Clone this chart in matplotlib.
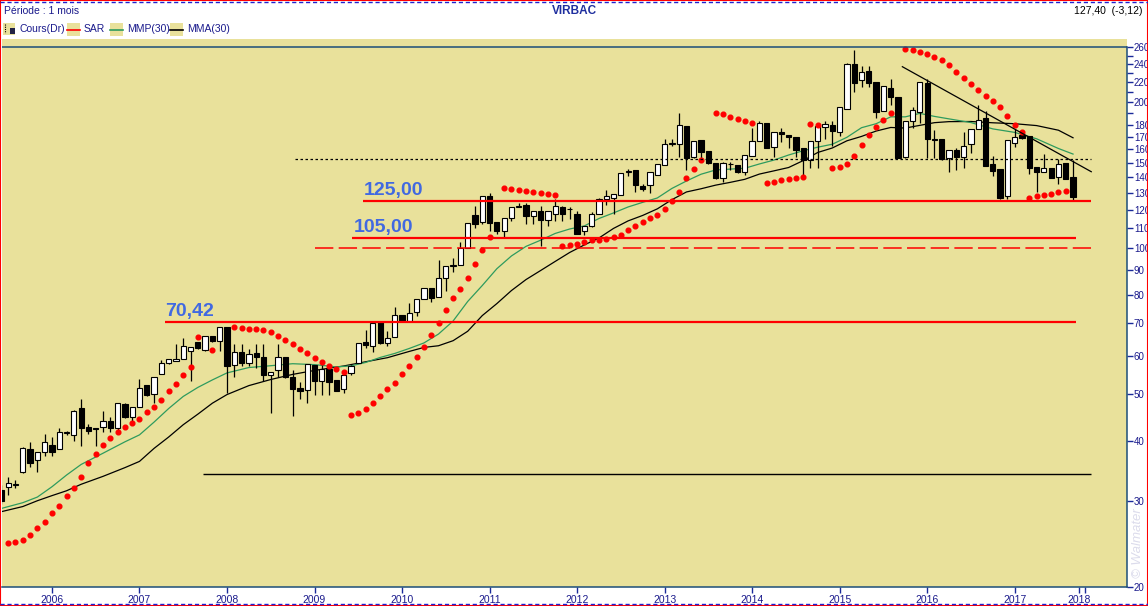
import numpy as np
import matplotlib
matplotlib.use('Agg')
import matplotlib.pyplot as plt
from matplotlib.patches import Rectangle
from matplotlib.lines import Line2D
from matplotlib.ticker import FixedLocator, FixedFormatter, NullLocator

plt.rcParams['font.family'] = ['Liberation Sans', 'DejaVu Sans']

nan = np.nan
# monthly candles, index 0 = Jan 2006
months = list(range(-7, 141))
opens = [31.7, 32.1, 32.5, 34.5, 38.5, 36.5, 37.9,
         39.3, 38.5, 41.6, 41.1, 46.7, 42.7, 42.5, 42.7, 44.0, 42.5, 47.7, 44.8,
         47.0, 52.2, 50.0, 55.0, 58.0, 58.6, 59.1, 61.4, 64.0, 61.6, 65.8, 64.3,
         68.8, 57.5, 61.0, 58.0, 60.7, 59.5, 54.8, 56.1, 59.5, 54.1, 51.5, 51.0,
         57.5, 53.2, 56.4, 53.5, 51.3, 55.3, 58.0, 64.0, 62.8, 70.4, 63.7, 65.5,
         72.8, 70.8, 73.8, 78.5, 82.8, 79.3, 86.8, 92.0, 92.4, 100.0, 117.0, 113.5,
         128.1, 113.5, 108.4, 115.2, 121.8, 123.0, 116.3, 119.6, 114.6, 117.8, 121.8, 120.5,
         117.8, 108.6, 111.2, 117.8, 126.5, 127.2, 129.0, 144.0, 145.1, 134.3, 134.9, 141.7,
         148.8, 164.3, 164.3, 179.0, 154.3, 167.3, 158.7, 150.0, 139.6, 149.3, 148.6, 143.7,
         155.1, 166.5, 181.7, 162.2, 173.8, 171.3, 169.6, 161.4, 152.1, 166.5, 178.2, 179.9,
         173.8, 194.2, 240.1, 222.6, 232.4, 220.5, 192.0, 214.3, 205.3, 154.3, 182.8, 191.1,
         219.5, 168.2, 168.2, 153.5, 159.5, 154.3, 164.3, 176.4, 185.7, 149.3, 145.7, 128.5,
         164.8, 171.3, 170.5, 147.1, 143.7, 146.4, 140.3, 150.0, 140.3]
highs = [32.5, 33.7, 33.2, 38.8, 39.8, 38.0, 41.3,
         40.8, 42.5, 41.9, 46.3, 48.8, 43.3, 42.6, 46.1, 44.8, 47.9, 47.8, 47.0,
         53.8, 52.3, 54.1, 58.8, 59.1, 63.4, 65.2, 62.5, 64.0, 65.8, 65.8, 68.8,
         68.8, 63.4, 63.4, 62.0, 63.4, 63.4, 55.5, 63.4, 59.5, 56.1, 52.9, 57.8,
         57.5, 57.5, 57.5, 53.5, 56.1, 57.5, 63.7, 67.8, 70.1, 70.4, 67.4, 75.5,
         72.8, 77.0, 78.5, 82.8, 82.8, 94.6, 92.0, 95.5, 103.0, 113.0, 122.0, 128.1,
         130.2, 113.5, 115.7, 121.8, 124.0, 124.0, 119.6, 122.4, 119.6, 126.5, 122.4, 121.8,
         119.6, 111.2, 119.0, 127.0, 131.9, 129.6, 143.0, 145.7, 145.1, 135.5, 143.7, 149.4,
         168.3, 168.3, 190.2, 179.0, 166.5, 167.3, 158.7, 150.0, 150.7, 150.7, 148.6, 155.9,
         177.2, 183.0, 181.7, 173.8, 177.2, 171.3, 169.6, 161.4, 166.5, 179.0, 183.0, 183.0,
         196.2, 241.0, 256.6, 238.4, 238.4, 220.5, 216.4, 223.6, 205.3, 182.8, 196.2, 220.5,
         223.6, 175.5, 168.2, 159.5, 161.0, 173.8, 176.4, 197.5, 191.9, 155.1, 145.7, 167.3,
         176.4, 174.6, 170.5, 147.1, 156.6, 146.4, 152.8, 150.0, 152.1]
lows = [29.6, 31.0, 32.0, 34.3, 35.3, 34.5, 37.2,
        37.2, 38.5, 41.2, 40.0, 39.1, 41.3, 39.1, 41.7, 41.7, 41.7, 44.6, 44.0,
        47.0, 49.6, 47.9, 55.0, 57.8, 58.6, 59.1, 53.2, 62.0, 61.3, 64.0, 61.3,
        50.3, 54.1, 57.0, 57.0, 56.6, 53.2, 45.6, 54.1, 53.9, 45.0, 48.9, 47.9,
        49.8, 49.8, 49.8, 50.8, 50.3, 54.8, 58.0, 62.2, 61.0, 63.5, 62.8, 65.5,
        70.6, 70.8, 72.5, 78.5, 77.6, 79.3, 81.6, 89.3, 92.4, 100.0, 109.9, 112.0,
        108.6, 107.0, 104.9, 114.0, 121.8, 112.0, 112.0, 101.0, 111.0, 114.0, 114.0, 115.0,
        107.0, 106.5, 110.8, 117.8, 123.0, 117.8, 129.0, 140.7, 130.6, 131.3, 129.9, 141.7,
        148.8, 163.0, 154.0, 145.0, 153.5, 150.7, 149.4, 139.0, 136.9, 145.1, 142.9, 141.7,
        155.1, 166.5, 161.4, 154.0, 165.7, 161.4, 154.0, 140.0, 146.4, 146.4, 168.0, 163.0,
        170.5, 194.2, 210.2, 215.4, 215.4, 185.7, 192.0, 197.5, 153.5, 153.5, 177.2, 181.0,
        153.5, 153.5, 152.1, 143.7, 145.1, 146.4, 157.3, 176.4, 147.8, 140.7, 126.5, 126.5,
        162.2, 168.0, 142.3, 130.5, 143.7, 139.6, 135.5, 139.0, 126.0]
closes = [30.0, 32.7, 32.6, 38.7, 36.0, 37.9, 39.8,
          37.9, 41.7, 41.8, 46.2, 42.5, 41.9, 42.4, 44.0, 42.5, 47.8, 44.8, 47.0,
          51.5, 49.8, 54.1, 58.0, 59.1, 59.1, 62.8, 62.5, 62.2, 65.8, 64.3, 68.8,
          57.2, 61.0, 58.0, 60.4, 59.5, 54.8, 55.5, 59.5, 54.1, 51.3, 50.8, 57.8,
          53.2, 56.4, 53.0, 50.8, 54.8, 57.2, 63.7, 63.1, 70.1, 63.7, 65.2, 72.8,
          70.8, 73.5, 78.5, 82.8, 78.9, 86.8, 92.0, 92.4, 100.0, 113.0, 112.1, 128.1,
          113.0, 108.4, 115.7, 121.8, 122.4, 116.3, 119.6, 114.6, 119.6, 122.4, 117.8, 120.3,
          107.0, 111.2, 117.8, 126.5, 128.5, 129.6, 143.0, 144.5, 134.9, 132.4, 143.7, 149.4,
          164.3, 164.8, 179.9, 153.5, 166.5, 158.0, 150.0, 139.6, 150.0, 149.0, 143.7, 155.9,
          166.5, 181.7, 161.4, 173.8, 172.1, 169.6, 159.5, 152.1, 166.5, 179.0, 180.8, 174.6,
          196.2, 240.1, 219.5, 231.3, 219.5, 191.1, 216.4, 205.3, 153.5, 182.8, 193.0, 220.5,
          168.2, 167.5, 152.8, 159.5, 154.3, 162.9, 176.4, 184.0, 147.8, 144.4, 127.2, 167.3,
          170.0, 168.9, 146.4, 143.7, 146.4, 139.6, 149.4, 139.0, 127.4]

sar = [nan, 24.65, 24.77, 24.97, 25.57, 26.47, 27.24,
       28.43, 29.39, 30.78, 32.02, 33.74, 35.96, 37.64, 39.28, 40.61, 41.79, 42.79, 43.62,
       44.46, 45.90, 47.07, 48.66, 50.79, 52.43, 54.73, 56.93, 65.66, nan, 61.52, nan,
       nan, 68.85, 68.53, 68.10, 68.10, 67.78, 67.23, 65.97, 64.63, 63.51, 62.01, 60.76,
       59.42, 58.22, 57.12, 56.40, 55.52, 45.27, 45.64, 46.52, 47.87, 49.56, 51.27, 52.77,
       55.01, 57.20, 59.62, 62.61, 66.29, 69.98, 74.54, 79.05, 82.51, 86.95, 92.93, 99.18,
       105.5, nan, 133.1, 132.5, 131.9, 131.4, 130.8, 130.0, 129.4, 128.6, 101.3, 101.7,
       102.2, 103.1, 104.0, 104.2, 104.6, 105.5, 106.5, 109.1, 111.3, 113.5, 115.6, 117.1,
       120.3, 125.3, 130.8, 139.6, 146.0, 152.1, nan, 190.6, 189.4, 187.0, 185.0, 183.2,
       181.8, nan, 136.7, 137.3, 138.4, 139.1, 139.8, 140.6, 180.7, 180.1, nan, 146.7,
       147.4, 149.3, 155.0, 163.3, 171.5, 178.1, 184.0, 190.6, nan, 257.9, 256.7, 254.3,
       251.8, 248.3, 244.8, 239.0, 231.2, 225.0, 218.7, 212.2, 206.3, 201.5, 195.8, 187.6,
       180.1, 174.2, 127.2, 128.4, 128.9, 129.4, 130.7, 131.3, nan]

mma_idx = [-7, -4, -2, 0, 2, 4, 7, 10, 12, 14, 16, 18, 20, 22, 24, 27, 30, 33, 36, 40,
           43, 46, 49, 51, 53, 55, 57, 59, 61, 63, 65, 67, 69, 71, 73, 75, 77, 79, 81, 83,
           85, 87, 89, 91, 93, 95, 97, 99, 101, 103, 105, 107, 109, 111, 113, 115, 117, 119,
           121, 123, 126, 129, 132, 135, 138, 140]
mma = [28.56, 29.28, 30.10, 30.84, 31.56, 32.55, 33.80, 35.23, 36.29, 38.61, 40.75, 43.21,
       45.43, 47.87, 49.87, 52.04, 53.57, 54.89, 55.93, 57.13, 58.28, 59.43, 61.23, 62.40,
       62.9, 64.43, 67.38, 72.60, 76.86, 81.78, 86.17, 89.95, 93.93, 98.04, 101.6, 105.0,
       109.9, 113.9, 116.9, 120.6, 126.0, 130.7, 132.7, 135.0, 136.8, 138.8, 142.3, 144.5,
       146.8, 151.7, 157.7, 161.1, 166.7, 170.2, 174.6, 177.6, 177.1, 179.4, 181.7, 182.6,
       182.7, 181.6, 180.8, 179.2, 175.3, 169.1]

mmp_idx = [-7, -4, -2, 0, 2, 4, 7, 10, 12, 14, 16, 18, 20, 22, 24, 27, 30, 33, 36, 39,
           41, 43, 45, 47, 49, 51, 53, 55, 57, 59, 61, 63, 65, 67, 69, 71, 73, 75, 77, 79,
           81, 83, 85, 87, 89, 91, 93, 95, 97, 99, 101, 103, 105, 107, 109, 111, 113, 115,
           117, 119, 121, 123, 126, 129, 132, 135, 138, 140]
mmp = [29.0, 29.82, 30.63, 32.17, 34.01, 35.77, 37.73, 39.83, 41.17, 43.75, 46.66, 49.43,
       51.59, 53.47, 55.28, 56.71, 57.20, 57.75, 57.50, 56.88, 57.15, 58.09, 59.49, 60.64,
       62.10, 63.74, 66.50, 70.75, 77.63, 83.76, 90.73, 96.40, 100.9, 103.9, 107.3, 109.6,
       111.2, 115.2, 118.3, 121.7, 124.4, 127.0, 132.9, 137.7, 142.2, 145.1, 145.7, 146.3,
       149.3, 152.1, 155.8, 159.0, 161.7, 164.0, 169.5, 177.4, 180.8, 186.8, 186.8, 189.9,
       187.2, 185.0, 181.8, 176.4, 173.5, 168.3, 160.7, 156.5]

years = ['2006', '2007', '2008', '2009', '2010', '2011', '2012', '2013', '2014',
         '2015', '2016', '2017', '2018']
level_values = [125.00, 105.00, 70.42]
level_labels = ['125,00', '105,00', '70,42']

W, H = 1148, 606
fig = plt.figure(figsize=(W / 100, H / 100), dpi=100)
fig.patch.set_facecolor('white')
ax = fig.add_axes([2 / W, (H - 586.7) / H, 1125 / W, (586.7 - 39.3) / H])
khaki = '#E9E19B'
navy = '#1a1a8c'
axis_col = '#1d4e78'
ax.set_facecolor(khaki)
ax.set_yscale('log')
ax.set_ylim(20, 270.1)
ax.set_xlim(-6.85, 147.4)

x = np.array(months, dtype=float)
o = np.array(opens); h = np.array(highs); l = np.array(lows); c = np.array(closes)
up = c >= o
bot = np.minimum(o, c)
top = np.maximum(o, c)

ax.plot(mma_idx, mma, color='black', lw=0.9, zorder=2)
ax.plot(mmp_idx, mmp, color='#2E9B5E', lw=0.9, zorder=2)

ax.vlines(x, l, h, color='black', lw=0.9, zorder=3)
ax.bar(x[up], (top - bot)[up], bottom=bot[up], width=0.72, color='white',
       edgecolor='black', lw=0.8, zorder=4)
ax.bar(x[~up], (top - bot)[~up], bottom=bot[~up], width=0.72, color='black',
       edgecolor='black', lw=0.8, zorder=4)

ax.plot(months, np.array(sar, dtype=float), 'o', color='#FF0000', ms=3.4,
        mec='#FF0000', zorder=5)

# drawn levels / lines
ax.hlines(level_values[0], 42.7, 142.5, color='#FF0000', lw=1.6, zorder=6)
ax.hlines(level_values[1], 41.2, 140.4, color='#FF0000', lw=1.6, zorder=6)
ax.hlines(level_values[2], 15.5, 140.4, color='#FF0000', lw=1.6, zorder=6)
ax.hlines(100, 36, 142.5, color='#FF0000', lw=1.1, linestyles=(0, (12, 3.5)), zorder=6)
ax.hlines(153, 33.3, 142.5, color='black', lw=0.9, linestyles=(0, (2, 2)), zorder=6)
ax.hlines(34.2, 20.7, 142.5, color='black', lw=1.0, zorder=6)
ax.plot([116.6, 142.5], [237.1, 143.9], color='black', lw=0.9, zorder=6)
ax.axhline(260, color=axis_col, lw=1.1, zorder=7)

lab_pos = [(42.7, 131.9), (41.4, 110.6), (15.5, 74.2)]
for (tx, ty), s in zip(lab_pos, level_labels):
    ax.text(tx, ty, s, color='#4169E1', fontsize=14, fontweight='bold',
            va='center', ha='left', zorder=7)

# axes
for s in ['left', 'top']:
    ax.spines[s].set_visible(False)
ax.spines['right'].set_color(axis_col)
ax.spines['right'].set_linewidth(1.1)
ax.spines['right'].set_bounds(20, 260)
ax.spines['bottom'].set_color(axis_col)
ax.spines['bottom'].set_linewidth(1.1)

yt = [20, 30, 40, 50, 60, 70, 80, 90, 100, 110, 120, 130, 140, 150, 160, 170, 180,
      190, 200, 210, 220, 230, 240, 250, 260]
ylab = [str(v) if v not in (190, 210, 230, 250) else '' for v in yt]
ax.yaxis.tick_right()
ax.yaxis.set_major_locator(FixedLocator(yt))
ax.yaxis.set_major_formatter(FixedFormatter(ylab))
ax.yaxis.set_minor_locator(NullLocator())
ax.tick_params(axis='y', direction='out', length=4, width=1, color='#1a2a9a',
               labelcolor=navy, labelsize=7, pad=1)

xt = [0, 12, 24, 36, 48, 60, 72, 84, 96, 108, 120, 132, 140.8, 141.6]
ax.set_xticks(xt)
ax.set_xticklabels(years + [''])
ax.tick_params(axis='x', direction='out', length=4, width=1, color='#1a2a9a',
               labelcolor=navy, labelsize=7.5, pad=2)


def fx(px):
    return px / W


def fy(py):
    return 1 - py / H


# header
fig.text(fx(4), fy(11), 'Période : 1 mois', color=navy, fontsize=7.5, va='center')
fig.text(fx(574), fy(11), 'VIRBAC', color='#1f2f9f', fontsize=8.5, fontweight='bold',
         va='center', ha='center')
fig.text(fx(1143), fy(11), '127,40  (-3,12)', color='black', fontsize=7.5,
         va='center', ha='right')

# legend row
fig.add_artist(Rectangle((fx(3), fy(35)), 12 / W, 12 / H, transform=fig.transFigure,
                         facecolor=khaki, edgecolor='none'))
fig.add_artist(Rectangle((fx(10), fy(34)), 5 / W, 6 / H, transform=fig.transFigure,
                         facecolor='#222244', edgecolor='none'))
fig.add_artist(Line2D([fx(5), fx(5)], [fy(24), fy(33)], transform=fig.transFigure,
                      color='black', lw=0.8, ls=(0, (1, 1))))
fig.text(fx(19), fy(29), 'Cours(Dr)', color=navy, fontsize=7.5, va='center')
leg = [(67, '#FF0000', 'SAR'), (110, '#2E9B5E', 'MMP(30)'), (170, 'black', 'MMA(30)')]
for px, col, name in leg:
    fig.add_artist(Rectangle((fx(px), fy(36)), 13 / W, 13 / H, transform=fig.transFigure,
                             facecolor=khaki, edgecolor='none'))
    fig.add_artist(Line2D([fx(px), fx(px + 13)], [fy(29.5), fy(29.5)],
                          transform=fig.transFigure, color=col, lw=1.2))
    fig.text(fx(px + 17), fy(29), name, color=navy, fontsize=7.5, va='center')

fig.text(fx(1138), fy(543), '© Walmater', color='#dcdcec', fontsize=9.5, style='italic',
         rotation=90, ha='center', va='center')

# frame
fig.add_artist(Line2D([0, 1], [fy(2), fy(2)], transform=fig.transFigure,
                      color='#2020d0', lw=1, ls=(0, (3, 2))))
fig.add_artist(Line2D([0, 1], [fy(603.5), fy(603.5)], transform=fig.transFigure,
                      color='#2020d0', lw=1, ls=(0, (3, 2))))
fig.add_artist(Rectangle((0, 0), 1, 1, transform=fig.transFigure, fill=False,
                         edgecolor='#FF0000', lw=1.5))

fig.savefig('out.png', dpi=100)
